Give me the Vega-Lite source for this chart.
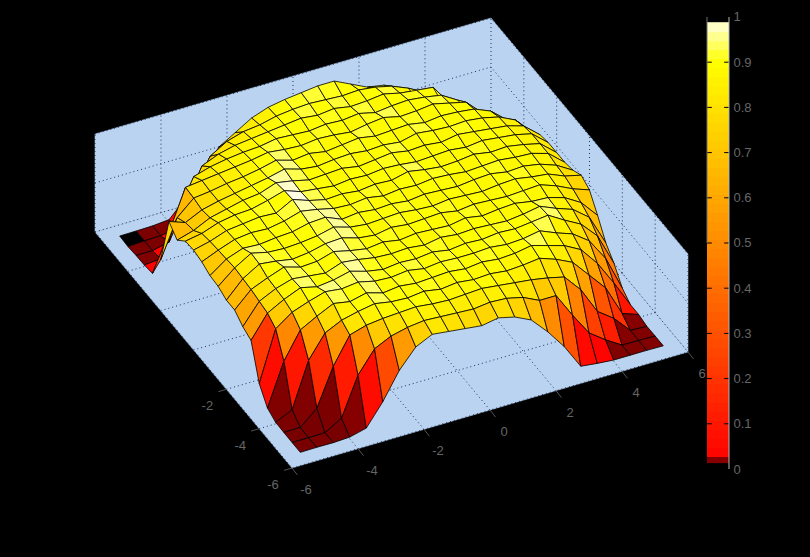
{"$schema":"https://vega.github.io/schema/vega-lite/v6.json","width":810,"height":557,"padding":0,"autosize":{"type":"none"},"background":"#000000","config":{"view":{"stroke":null}},
"datasets":{
"surface":[
{"x":-5.5,"y":5.5,"z":0.01},{"x":-5,"y":5.5,"z":0.012},{"x":-4.5,"y":5.5,"z":0.015},{"x":-4,"y":5.5,"z":0.03},{"x":-3.5,"y":5.5,"z":0.2},{"x":-3,"y":5.5,"z":0.4},{"x":-2.5,"y":5.5,"z":0.62},{"x":-2,"y":5.5,"z":0.72},{"x":-1.5,"y":5.5,"z":0.82},{"x":-1,"y":5.5,"z":0.88},{"x":-0.5,"y":5.5,"z":0.91},{"x":0,"y":5.5,"z":0.93},{"x":0.5,"y":5.5,"z":0.95},{"x":1,"y":5.5,"z":0.95},{"x":1.5,"y":5.5,"z":0.87},{"x":2,"y":5.5,"z":0.79},{"x":2.5,"y":5.5,"z":0.76},{"x":3,"y":5.5,"z":0.55},{"x":3.5,"y":5.5,"z":0.4},{"x":4,"y":5.5,"z":0.1},{"x":4.5,"y":5.5,"z":0.02},{"x":5,"y":5.5,"z":0.01},{"x":5.5,"y":5.5,"z":0.01},
{"x":-5.5,"y":5,"z":0.003},{"x":-5,"y":5,"z":0.012},{"x":-4.5,"y":5,"z":0.015},{"x":-4,"y":5,"z":0.05},{"x":-3.5,"y":5,"z":0.4},{"x":-3,"y":5,"z":0.68},{"x":-2.5,"y":5,"z":0.78},{"x":-2,"y":5,"z":0.83},{"x":-1.5,"y":5,"z":0.85},{"x":-1,"y":5,"z":0.89},{"x":-0.5,"y":5,"z":0.91},{"x":0,"y":5,"z":0.92},{"x":0.5,"y":5,"z":0.91},{"x":1,"y":5,"z":0.9},{"x":1.5,"y":5,"z":0.91},{"x":2,"y":5,"z":0.89},{"x":2.5,"y":5,"z":0.85},{"x":3,"y":5,"z":0.78},{"x":3.5,"y":5,"z":0.5},{"x":4,"y":5,"z":0.15},{"x":4.5,"y":5,"z":0.02},{"x":5,"y":5,"z":0.01},{"x":5.5,"y":5,"z":0.01},
{"x":-5.5,"y":4.5,"z":0.012},{"x":-5,"y":4.5,"z":0.012},{"x":-4.5,"y":4.5,"z":0.05},{"x":-4,"y":4.5,"z":0.4},{"x":-3.5,"y":4.5,"z":0.73},{"x":-3,"y":4.5,"z":0.8},{"x":-2.5,"y":4.5,"z":0.84},{"x":-2,"y":4.5,"z":0.86},{"x":-1.5,"y":4.5,"z":0.88},{"x":-1,"y":4.5,"z":0.9},{"x":-0.5,"y":4.5,"z":0.92},{"x":0,"y":4.5,"z":0.9},{"x":0.5,"y":4.5,"z":0.92},{"x":1,"y":4.5,"z":0.89},{"x":1.5,"y":4.5,"z":0.9},{"x":2,"y":4.5,"z":0.92},{"x":2.5,"y":4.5,"z":0.88},{"x":3,"y":4.5,"z":0.86},{"x":3.5,"y":4.5,"z":0.84},{"x":4,"y":4.5,"z":0.5},{"x":4.5,"y":4.5,"z":0.15},{"x":5,"y":4.5,"z":0.02},{"x":5.5,"y":4.5,"z":0.01},
{"x":-5.5,"y":4,"z":0.015},{"x":-5,"y":4,"z":0.03},{"x":-4.5,"y":4,"z":0.45},{"x":-4,"y":4,"z":0.77},{"x":-3.5,"y":4,"z":0.82},{"x":-3,"y":4,"z":0.85},{"x":-2.5,"y":4,"z":0.87},{"x":-2,"y":4,"z":0.88},{"x":-1.5,"y":4,"z":0.91},{"x":-1,"y":4,"z":0.9},{"x":-0.5,"y":4,"z":0.89},{"x":0,"y":4,"z":0.91},{"x":0.5,"y":4,"z":0.9},{"x":1,"y":4,"z":0.92},{"x":1.5,"y":4,"z":0.88},{"x":2,"y":4,"z":0.9},{"x":2.5,"y":4,"z":0.91},{"x":3,"y":4,"z":0.89},{"x":3.5,"y":4,"z":0.86},{"x":4,"y":4,"z":0.76},{"x":4.5,"y":4,"z":0.5},{"x":5,"y":4,"z":0.15},{"x":5.5,"y":4,"z":0.03},
{"x":-5.5,"y":3.5,"z":0.03},{"x":-5,"y":3.5,"z":0.4},{"x":-4.5,"y":3.5,"z":0.81},{"x":-4,"y":3.5,"z":0.83},{"x":-3.5,"y":3.5,"z":0.85},{"x":-3,"y":3.5,"z":0.87},{"x":-2.5,"y":3.5,"z":0.89},{"x":-2,"y":3.5,"z":0.92},{"x":-1.5,"y":3.5,"z":0.9},{"x":-1,"y":3.5,"z":0.89},{"x":-0.5,"y":3.5,"z":0.91},{"x":0,"y":3.5,"z":0.9},{"x":0.5,"y":3.5,"z":0.88},{"x":1,"y":3.5,"z":0.91},{"x":1.5,"y":3.5,"z":0.93},{"x":2,"y":3.5,"z":0.89},{"x":2.5,"y":3.5,"z":0.9},{"x":3,"y":3.5,"z":0.92},{"x":3.5,"y":3.5,"z":0.88},{"x":4,"y":3.5,"z":0.84},{"x":4.5,"y":3.5,"z":0.68},{"x":5,"y":3.5,"z":0.5},{"x":5.5,"y":3.5,"z":0.25},
{"x":-5.5,"y":3,"z":0.27},{"x":-5,"y":3,"z":0.65},{"x":-4.5,"y":3,"z":0.8},{"x":-4,"y":3,"z":0.82},{"x":-3.5,"y":3,"z":0.85},{"x":-3,"y":3,"z":0.87},{"x":-2.5,"y":3,"z":0.9},{"x":-2,"y":3,"z":0.94},{"x":-1.5,"y":3,"z":0.89},{"x":-1,"y":3,"z":0.91},{"x":-0.5,"y":3,"z":0.88},{"x":0,"y":3,"z":0.9},{"x":0.5,"y":3,"z":0.92},{"x":1,"y":3,"z":0.89},{"x":1.5,"y":3,"z":0.9},{"x":2,"y":3,"z":0.91},{"x":2.5,"y":3,"z":0.88},{"x":3,"y":3,"z":0.9},{"x":3.5,"y":3,"z":0.89},{"x":4,"y":3,"z":0.87},{"x":4.5,"y":3,"z":0.8},{"x":5,"y":3,"z":0.66},{"x":5.5,"y":3,"z":0.45},
{"x":-5.5,"y":2.5,"z":0.76},{"x":-5,"y":2.5,"z":0.7},{"x":-4.5,"y":2.5,"z":0.78},{"x":-4,"y":2.5,"z":0.82},{"x":-3.5,"y":2.5,"z":0.85},{"x":-3,"y":2.5,"z":0.88},{"x":-2.5,"y":2.5,"z":0.91},{"x":-2,"y":2.5,"z":0.95},{"x":-1.5,"y":2.5,"z":0.9},{"x":-1,"y":2.5,"z":0.88},{"x":-0.5,"y":2.5,"z":0.9},{"x":0,"y":2.5,"z":0.91},{"x":0.5,"y":2.5,"z":0.89},{"x":1,"y":2.5,"z":0.9},{"x":1.5,"y":2.5,"z":0.88},{"x":2,"y":2.5,"z":0.92},{"x":2.5,"y":2.5,"z":0.9},{"x":3,"y":2.5,"z":0.89},{"x":3.5,"y":2.5,"z":0.9},{"x":4,"y":2.5,"z":0.88},{"x":4.5,"y":2.5,"z":0.84},{"x":5,"y":2.5,"z":0.76},{"x":5.5,"y":2.5,"z":0.58},
{"x":-5.5,"y":2,"z":0.67},{"x":-5,"y":2,"z":0.72},{"x":-4.5,"y":2,"z":0.8},{"x":-4,"y":2,"z":0.84},{"x":-3.5,"y":2,"z":0.88},{"x":-3,"y":2,"z":0.9},{"x":-2.5,"y":2,"z":0.96},{"x":-2,"y":2,"z":0.93},{"x":-1.5,"y":2,"z":0.89},{"x":-1,"y":2,"z":0.9},{"x":-0.5,"y":2,"z":0.91},{"x":0,"y":2,"z":0.88},{"x":0.5,"y":2,"z":0.9},{"x":1,"y":2,"z":0.92},{"x":1.5,"y":2,"z":0.89},{"x":2,"y":2,"z":0.9},{"x":2.5,"y":2,"z":0.88},{"x":3,"y":2,"z":0.91},{"x":3.5,"y":2,"z":0.89},{"x":4,"y":2,"z":0.87},{"x":4.5,"y":2,"z":0.85},{"x":5,"y":2,"z":0.8},{"x":5.5,"y":2,"z":0.66},
{"x":-5.5,"y":1.5,"z":0.76},{"x":-5,"y":1.5,"z":0.79},{"x":-4.5,"y":1.5,"z":0.85},{"x":-4,"y":1.5,"z":0.88},{"x":-3.5,"y":1.5,"z":0.89},{"x":-3,"y":1.5,"z":0.93},{"x":-2.5,"y":1.5,"z":0.98},{"x":-2,"y":1.5,"z":0.92},{"x":-1.5,"y":1.5,"z":0.9},{"x":-1,"y":1.5,"z":0.88},{"x":-0.5,"y":1.5,"z":0.9},{"x":0,"y":1.5,"z":0.89},{"x":0.5,"y":1.5,"z":0.91},{"x":1,"y":1.5,"z":0.9},{"x":1.5,"y":1.5,"z":0.88},{"x":2,"y":1.5,"z":0.89},{"x":2.5,"y":1.5,"z":0.9},{"x":3,"y":1.5,"z":0.88},{"x":3.5,"y":1.5,"z":0.9},{"x":4,"y":1.5,"z":0.88},{"x":4.5,"y":1.5,"z":0.86},{"x":5,"y":1.5,"z":0.82},{"x":5.5,"y":1.5,"z":0.68},
{"x":-5.5,"y":1,"z":0.77},{"x":-5,"y":1,"z":0.81},{"x":-4.5,"y":1,"z":0.87},{"x":-4,"y":1,"z":0.89},{"x":-3.5,"y":1,"z":0.91},{"x":-3,"y":1,"z":0.9},{"x":-2.5,"y":1,"z":0.99},{"x":-2,"y":1,"z":0.93},{"x":-1.5,"y":1,"z":0.89},{"x":-1,"y":1,"z":0.9},{"x":-0.5,"y":1,"z":0.88},{"x":0,"y":1,"z":0.9},{"x":0.5,"y":1,"z":0.89},{"x":1,"y":1,"z":0.93},{"x":1.5,"y":1,"z":0.9},{"x":2,"y":1,"z":0.88},{"x":2.5,"y":1,"z":0.89},{"x":3,"y":1,"z":0.91},{"x":3.5,"y":1,"z":0.88},{"x":4,"y":1,"z":0.89},{"x":4.5,"y":1,"z":0.86},{"x":5,"y":1,"z":0.82},{"x":5.5,"y":1,"z":0.68},
{"x":-5.5,"y":0.5,"z":0.75},{"x":-5,"y":0.5,"z":0.82},{"x":-4.5,"y":0.5,"z":0.88},{"x":-4,"y":0.5,"z":0.9},{"x":-3.5,"y":0.5,"z":0.89},{"x":-3,"y":0.5,"z":0.92},{"x":-2.5,"y":0.5,"z":0.97},{"x":-2,"y":0.5,"z":0.94},{"x":-1.5,"y":0.5,"z":0.9},{"x":-1,"y":0.5,"z":0.89},{"x":-0.5,"y":0.5,"z":0.91},{"x":0,"y":0.5,"z":0.88},{"x":0.5,"y":0.5,"z":0.9},{"x":1,"y":0.5,"z":0.89},{"x":1.5,"y":0.5,"z":0.91},{"x":2,"y":0.5,"z":0.9},{"x":2.5,"y":0.5,"z":0.88},{"x":3,"y":0.5,"z":0.89},{"x":3.5,"y":0.5,"z":0.9},{"x":4,"y":0.5,"z":0.88},{"x":4.5,"y":0.5,"z":0.87},{"x":5,"y":0.5,"z":0.82},{"x":5.5,"y":0.5,"z":0.68},
{"x":-5.5,"y":0,"z":0.71},{"x":-5,"y":0,"z":0.83},{"x":-4.5,"y":0,"z":0.89},{"x":-4,"y":0,"z":0.88},{"x":-3.5,"y":0,"z":0.9},{"x":-3,"y":0,"z":0.91},{"x":-2.5,"y":0,"z":0.95},{"x":-2,"y":0,"z":0.96},{"x":-1.5,"y":0,"z":0.89},{"x":-1,"y":0,"z":0.91},{"x":-0.5,"y":0,"z":0.89},{"x":0,"y":0,"z":0.9},{"x":0.5,"y":0,"z":0.88},{"x":1,"y":0,"z":0.9},{"x":1.5,"y":0,"z":0.89},{"x":2,"y":0,"z":0.88},{"x":2.5,"y":0,"z":0.9},{"x":3,"y":0,"z":0.91},{"x":3.5,"y":0,"z":0.88},{"x":4,"y":0,"z":0.89},{"x":4.5,"y":0,"z":0.86},{"x":5,"y":0,"z":0.8},{"x":5.5,"y":0,"z":0.7},
{"x":-5.5,"y":-0.5,"z":0.7},{"x":-5,"y":-0.5,"z":0.84},{"x":-4.5,"y":-0.5,"z":0.94},{"x":-4,"y":-0.5,"z":0.9},{"x":-3.5,"y":-0.5,"z":0.89},{"x":-3,"y":-0.5,"z":0.9},{"x":-2.5,"y":-0.5,"z":0.92},{"x":-2,"y":-0.5,"z":0.96},{"x":-1.5,"y":-0.5,"z":0.91},{"x":-1,"y":-0.5,"z":0.89},{"x":-0.5,"y":-0.5,"z":0.9},{"x":0,"y":-0.5,"z":0.91},{"x":0.5,"y":-0.5,"z":0.89},{"x":1,"y":-0.5,"z":0.88},{"x":1.5,"y":-0.5,"z":0.9},{"x":2,"y":-0.5,"z":0.89},{"x":2.5,"y":-0.5,"z":0.88},{"x":3,"y":-0.5,"z":0.9},{"x":3.5,"y":-0.5,"z":0.91},{"x":4,"y":-0.5,"z":0.88},{"x":4.5,"y":-0.5,"z":0.86},{"x":5,"y":-0.5,"z":0.79},{"x":5.5,"y":-0.5,"z":0.75},
{"x":-5.5,"y":-1,"z":0.66},{"x":-5,"y":-1,"z":0.83},{"x":-4.5,"y":-1,"z":0.93},{"x":-4,"y":-1,"z":0.91},{"x":-3.5,"y":-1,"z":0.88},{"x":-3,"y":-1,"z":0.9},{"x":-2.5,"y":-1,"z":0.94},{"x":-2,"y":-1,"z":0.95},{"x":-1.5,"y":-1,"z":0.9},{"x":-1,"y":-1,"z":0.88},{"x":-0.5,"y":-1,"z":0.91},{"x":0,"y":-1,"z":0.89},{"x":0.5,"y":-1,"z":0.9},{"x":1,"y":-1,"z":0.91},{"x":1.5,"y":-1,"z":0.88},{"x":2,"y":-1,"z":0.9},{"x":2.5,"y":-1,"z":0.89},{"x":3,"y":-1,"z":0.88},{"x":3.5,"y":-1,"z":0.89},{"x":4,"y":-1,"z":0.9},{"x":4.5,"y":-1,"z":0.84},{"x":5,"y":-1,"z":0.76},{"x":5.5,"y":-1,"z":0.7},
{"x":-5.5,"y":-1.5,"z":0.66},{"x":-5,"y":-1.5,"z":0.82},{"x":-4.5,"y":-1.5,"z":0.89},{"x":-4,"y":-1.5,"z":0.95},{"x":-3.5,"y":-1.5,"z":0.9},{"x":-3,"y":-1.5,"z":0.91},{"x":-2.5,"y":-1.5,"z":0.96},{"x":-2,"y":-1.5,"z":0.92},{"x":-1.5,"y":-1.5,"z":0.89},{"x":-1,"y":-1.5,"z":0.91},{"x":-0.5,"y":-1.5,"z":0.88},{"x":0,"y":-1.5,"z":0.9},{"x":0.5,"y":-1.5,"z":0.89},{"x":1,"y":-1.5,"z":0.88},{"x":1.5,"y":-1.5,"z":0.91},{"x":2,"y":-1.5,"z":0.88},{"x":2.5,"y":-1.5,"z":0.9},{"x":3,"y":-1.5,"z":0.91},{"x":3.5,"y":-1.5,"z":0.88},{"x":4,"y":-1.5,"z":0.87},{"x":4.5,"y":-1.5,"z":0.82},{"x":5,"y":-1.5,"z":0.72},{"x":5.5,"y":-1.5,"z":0.54},
{"x":-5.5,"y":-2,"z":0.59},{"x":-5,"y":-2,"z":0.8},{"x":-4.5,"y":-2,"z":0.88},{"x":-4,"y":-2,"z":0.93},{"x":-3.5,"y":-2,"z":0.91},{"x":-3,"y":-2,"z":0.89},{"x":-2.5,"y":-2,"z":0.95},{"x":-2,"y":-2,"z":0.93},{"x":-1.5,"y":-2,"z":0.9},{"x":-1,"y":-2,"z":0.89},{"x":-0.5,"y":-2,"z":0.9},{"x":0,"y":-2,"z":0.88},{"x":0.5,"y":-2,"z":0.91},{"x":1,"y":-2,"z":0.89},{"x":1.5,"y":-2,"z":0.9},{"x":2,"y":-2,"z":0.89},{"x":2.5,"y":-2,"z":0.88},{"x":3,"y":-2,"z":0.9},{"x":3.5,"y":-2,"z":0.93},{"x":4,"y":-2,"z":0.86},{"x":4.5,"y":-2,"z":0.8},{"x":5,"y":-2,"z":0.67},{"x":5.5,"y":-2,"z":0.36},
{"x":-5.5,"y":-2.5,"z":0.55},{"x":-5,"y":-2.5,"z":0.78},{"x":-4.5,"y":-2.5,"z":0.87},{"x":-4,"y":-2.5,"z":0.94},{"x":-3.5,"y":-2.5,"z":0.9},{"x":-3,"y":-2.5,"z":0.92},{"x":-2.5,"y":-2.5,"z":0.96},{"x":-2,"y":-2.5,"z":0.91},{"x":-1.5,"y":-2.5,"z":0.88},{"x":-1,"y":-2.5,"z":0.9},{"x":-0.5,"y":-2.5,"z":0.89},{"x":0,"y":-2.5,"z":0.91},{"x":0.5,"y":-2.5,"z":0.88},{"x":1,"y":-2.5,"z":0.9},{"x":1.5,"y":-2.5,"z":0.89},{"x":2,"y":-2.5,"z":0.91},{"x":2.5,"y":-2.5,"z":0.9},{"x":3,"y":-2.5,"z":0.92},{"x":3.5,"y":-2.5,"z":0.94},{"x":4,"y":-2.5,"z":0.84},{"x":4.5,"y":-2.5,"z":0.75},{"x":5,"y":-2.5,"z":0.58},{"x":5.5,"y":-2.5,"z":0.25},
{"x":-5.5,"y":-3,"z":0.21},{"x":-5,"y":-3,"z":0.72},{"x":-4.5,"y":-3,"z":0.84},{"x":-4,"y":-3,"z":0.9},{"x":-3.5,"y":-3,"z":0.95},{"x":-3,"y":-3,"z":0.93},{"x":-2.5,"y":-3,"z":0.95},{"x":-2,"y":-3,"z":0.91},{"x":-1.5,"y":-3,"z":0.9},{"x":-1,"y":-3,"z":0.92},{"x":-0.5,"y":-3,"z":0.89},{"x":0,"y":-3,"z":0.91},{"x":0.5,"y":-3,"z":0.9},{"x":1,"y":-3,"z":0.9},{"x":1.5,"y":-3,"z":0.91},{"x":2,"y":-3,"z":0.89},{"x":2.5,"y":-3,"z":0.9},{"x":3,"y":-3,"z":0.93},{"x":3.5,"y":-3,"z":0.86},{"x":4,"y":-3,"z":0.8},{"x":4.5,"y":-3,"z":0.68},{"x":5,"y":-3,"z":0.45},{"x":5.5,"y":-3,"z":0.1},
{"x":-5.5,"y":-3.5,"z":0.06},{"x":-5,"y":-3.5,"z":0.49},{"x":-4.5,"y":-3.5,"z":0.76},{"x":-4,"y":-3.5,"z":0.85},{"x":-3.5,"y":-3.5,"z":0.93},{"x":-3,"y":-3.5,"z":0.9},{"x":-2.5,"y":-3.5,"z":0.94},{"x":-2,"y":-3.5,"z":0.89},{"x":-1.5,"y":-3.5,"z":0.91},{"x":-1,"y":-3.5,"z":0.89},{"x":-0.5,"y":-3.5,"z":0.9},{"x":0,"y":-3.5,"z":0.91},{"x":0.5,"y":-3.5,"z":0.89},{"x":1,"y":-3.5,"z":0.91},{"x":1.5,"y":-3.5,"z":0.89},{"x":2,"y":-3.5,"z":0.9},{"x":2.5,"y":-3.5,"z":0.93},{"x":3,"y":-3.5,"z":0.88},{"x":3.5,"y":-3.5,"z":0.83},{"x":4,"y":-3.5,"z":0.74},{"x":4.5,"y":-3.5,"z":0.55},{"x":5,"y":-3.5,"z":0.3},{"x":5.5,"y":-3.5,"z":0.03},
{"x":-5.5,"y":-4,"z":0.015},{"x":-5,"y":-4,"z":0.095},{"x":-4.5,"y":-4,"z":0.55},{"x":-4,"y":-4,"z":0.78},{"x":-3.5,"y":-4,"z":0.86},{"x":-3,"y":-4,"z":0.9},{"x":-2.5,"y":-4,"z":0.93},{"x":-2,"y":-4,"z":0.9},{"x":-1.5,"y":-4,"z":0.89},{"x":-1,"y":-4,"z":0.91},{"x":-0.5,"y":-4,"z":0.88},{"x":0,"y":-4,"z":0.9},{"x":0.5,"y":-4,"z":0.88},{"x":1,"y":-4,"z":0.89},{"x":1.5,"y":-4,"z":0.87},{"x":2,"y":-4,"z":0.88},{"x":2.5,"y":-4,"z":0.9},{"x":3,"y":-4,"z":0.84},{"x":3.5,"y":-4,"z":0.76},{"x":4,"y":-4,"z":0.58},{"x":4.5,"y":-4,"z":0.4},{"x":5,"y":-4,"z":0.09},{"x":5.5,"y":-4,"z":0.03},
{"x":-5.5,"y":-4.5,"z":0.012},{"x":-5,"y":-4.5,"z":0.015},{"x":-4.5,"y":-4.5,"z":0.16},{"x":-4,"y":-4.5,"z":0.54},{"x":-3.5,"y":-4.5,"z":0.81},{"x":-3,"y":-4.5,"z":0.86},{"x":-2.5,"y":-4.5,"z":0.88},{"x":-2,"y":-4.5,"z":0.89},{"x":-1.5,"y":-4.5,"z":0.9},{"x":-1,"y":-4.5,"z":0.88},{"x":-0.5,"y":-4.5,"z":0.87},{"x":0,"y":-4.5,"z":0.88},{"x":0.5,"y":-4.5,"z":0.89},{"x":1,"y":-4.5,"z":0.87},{"x":1.5,"y":-4.5,"z":0.85},{"x":2,"y":-4.5,"z":0.83},{"x":2.5,"y":-4.5,"z":0.8},{"x":3,"y":-4.5,"z":0.76},{"x":3.5,"y":-4.5,"z":0.58},{"x":4,"y":-4.5,"z":0.31},{"x":4.5,"y":-4.5,"z":0.19},{"x":5,"y":-4.5,"z":0.018},{"x":5.5,"y":-4.5,"z":0.01},
{"x":-5.5,"y":-5,"z":0.01},{"x":-5,"y":-5,"z":0.01},{"x":-4.5,"y":-5,"z":0.012},{"x":-4,"y":-5,"z":0.11},{"x":-3.5,"y":-5,"z":0.5},{"x":-3,"y":-5,"z":0.72},{"x":-2.5,"y":-5,"z":0.8},{"x":-2,"y":-5,"z":0.84},{"x":-1.5,"y":-5,"z":0.86},{"x":-1,"y":-5,"z":0.85},{"x":-0.5,"y":-5,"z":0.84},{"x":0,"y":-5,"z":0.83},{"x":0.5,"y":-5,"z":0.85},{"x":1,"y":-5,"z":0.84},{"x":1.5,"y":-5,"z":0.8},{"x":2,"y":-5,"z":0.72},{"x":2.5,"y":-5,"z":0.72},{"x":3,"y":-5,"z":0.47},{"x":3.5,"y":-5,"z":0.24},{"x":4,"y":-5,"z":0.12},{"x":4.5,"y":-5,"z":0.018},{"x":5,"y":-5,"z":0.015},{"x":5.5,"y":-5,"z":0.012},
{"x":-5.5,"y":-5.5,"z":0.01},{"x":-5,"y":-5.5,"z":0.012},{"x":-4.5,"y":-5.5,"z":0.01},{"x":-4,"y":-5.5,"z":0.018},{"x":-3.5,"y":-5.5,"z":0.06},{"x":-3,"y":-5.5,"z":0.28},{"x":-2.5,"y":-5.5,"z":0.55},{"x":-2,"y":-5.5,"z":0.74},{"x":-1.5,"y":-5.5,"z":0.82},{"x":-1,"y":-5.5,"z":0.8},{"x":-0.5,"y":-5.5,"z":0.78},{"x":0,"y":-5.5,"z":0.76},{"x":0.5,"y":-5.5,"z":0.79},{"x":1,"y":-5.5,"z":0.75},{"x":1.5,"y":-5.5,"z":0.67},{"x":2,"y":-5.5,"z":0.5},{"x":2.5,"y":-5.5,"z":0.3},{"x":3,"y":-5.5,"z":0.05},{"x":3.5,"y":-5.5,"z":0.03},{"x":4,"y":-5.5,"z":0.015},{"x":4.5,"y":-5.5,"z":0.015},{"x":5,"y":-5.5,"z":0.015},{"x":5.5,"y":-5.5,"z":0.012}
],
"planes":[
{"plane":"floor","o":0,"x":-6,"y":-6,"z":0},{"plane":"floor","o":1,"x":6,"y":-6,"z":0},{"plane":"floor","o":2,"x":6,"y":6,"z":0},{"plane":"floor","o":3,"x":-6,"y":6,"z":0},
{"plane":"wallY","o":0,"x":-6,"y":6,"z":0},{"plane":"wallY","o":1,"x":6,"y":6,"z":0},{"plane":"wallY","o":2,"x":6,"y":6,"z":1},{"plane":"wallY","o":3,"x":-6,"y":6,"z":1},
{"plane":"wallX","o":0,"x":6,"y":-6,"z":0},{"plane":"wallX","o":1,"x":6,"y":6,"z":0},{"plane":"wallX","o":2,"x":6,"y":6,"z":1},{"plane":"wallX","o":3,"x":6,"y":-6,"z":1}
],
"grid":[
{"g":"fx-4","o":0,"x":-4,"y":-6,"z":0},{"g":"fx-4","o":1,"x":-4,"y":6,"z":0},{"g":"fx-2","o":0,"x":-2,"y":-6,"z":0},{"g":"fx-2","o":1,"x":-2,"y":6,"z":0},{"g":"fx0","o":0,"x":0,"y":-6,"z":0},{"g":"fx0","o":1,"x":0,"y":6,"z":0},{"g":"fx2","o":0,"x":2,"y":-6,"z":0},{"g":"fx2","o":1,"x":2,"y":6,"z":0},{"g":"fx4","o":0,"x":4,"y":-6,"z":0},{"g":"fx4","o":1,"x":4,"y":6,"z":0},
{"g":"fy-4","o":0,"x":-6,"y":-4,"z":0},{"g":"fy-4","o":1,"x":6,"y":-4,"z":0},{"g":"fy-2","o":0,"x":-6,"y":-2,"z":0},{"g":"fy-2","o":1,"x":6,"y":-2,"z":0},{"g":"fy0","o":0,"x":-6,"y":0,"z":0},{"g":"fy0","o":1,"x":6,"y":0,"z":0},{"g":"fy2","o":0,"x":-6,"y":2,"z":0},{"g":"fy2","o":1,"x":6,"y":2,"z":0},{"g":"fy4","o":0,"x":-6,"y":4,"z":0},{"g":"fy4","o":1,"x":6,"y":4,"z":0},
{"g":"wyx-4","o":0,"x":-4,"y":6,"z":0},{"g":"wyx-4","o":1,"x":-4,"y":6,"z":1},{"g":"wyx-2","o":0,"x":-2,"y":6,"z":0},{"g":"wyx-2","o":1,"x":-2,"y":6,"z":1},{"g":"wyx0","o":0,"x":0,"y":6,"z":0},{"g":"wyx0","o":1,"x":0,"y":6,"z":1},{"g":"wyx2","o":0,"x":2,"y":6,"z":0},{"g":"wyx2","o":1,"x":2,"y":6,"z":1},{"g":"wyx4","o":0,"x":4,"y":6,"z":0},{"g":"wyx4","o":1,"x":4,"y":6,"z":1},
{"g":"wxy-4","o":0,"x":6,"y":-4,"z":0},{"g":"wxy-4","o":1,"x":6,"y":-4,"z":1},{"g":"wxy-2","o":0,"x":6,"y":-2,"z":0},{"g":"wxy-2","o":1,"x":6,"y":-2,"z":1},{"g":"wxy0","o":0,"x":6,"y":0,"z":0},{"g":"wxy0","o":1,"x":6,"y":0,"z":1},{"g":"wxy2","o":0,"x":6,"y":2,"z":0},{"g":"wxy2","o":1,"x":6,"y":2,"z":1},{"g":"wxy4","o":0,"x":6,"y":4,"z":0},{"g":"wxy4","o":1,"x":6,"y":4,"z":1},
{"g":"z5a","o":0,"x":-6,"y":6,"z":0.5},{"g":"z5a","o":1,"x":6,"y":6,"z":0.5},{"g":"z5a","o":2,"x":6,"y":-6,"z":0.5},
{"g":"z0a","o":0,"x":-6,"y":6,"z":0},{"g":"z0a","o":1,"x":6,"y":6,"z":0},{"g":"z0a","o":2,"x":6,"y":-6,"z":0},
{"g":"z1a","o":0,"x":-6,"y":6,"z":1},{"g":"z1a","o":1,"x":6,"y":6,"z":1},{"g":"z1a","o":2,"x":6,"y":-6,"z":1},
{"g":"e1","o":0,"x":6,"y":6,"z":0},{"g":"e1","o":1,"x":6,"y":6,"z":1},{"g":"e2","o":0,"x":-6,"y":6,"z":0},{"g":"e2","o":1,"x":-6,"y":6,"z":1},{"g":"e3","o":0,"x":6,"y":-6,"z":0},{"g":"e3","o":1,"x":6,"y":-6,"z":1},
{"g":"e4","o":0,"x":-6,"y":6,"z":0},{"g":"e4","o":1,"x":-6,"y":-6,"z":0},{"g":"e4","o":2,"x":6,"y":-6,"z":0}
],
"xticks":[{"v":-6},{"v":-4},{"v":-2},{"v":0},{"v":2},{"v":4},{"v":6}],
"yticks":[{"v":-6},{"v":-4},{"v":-2}],
"bar":[{"z":0.0165},{"z":0.0365},{"z":0.0565},{"z":0.0765},{"z":0.0965},{"z":0.1165},{"z":0.1365},{"z":0.1565},{"z":0.1765},{"z":0.1965},{"z":0.2165},{"z":0.2365},{"z":0.2565},{"z":0.2765},{"z":0.2965},{"z":0.3165},{"z":0.3365},{"z":0.3565},{"z":0.3765},{"z":0.3965},{"z":0.4165},{"z":0.4365},{"z":0.4565},{"z":0.4765},{"z":0.4965},{"z":0.5165},{"z":0.5365},{"z":0.5565},{"z":0.5765},{"z":0.5965},{"z":0.6165},{"z":0.6365},{"z":0.6565},{"z":0.6765},{"z":0.6965},{"z":0.7165},{"z":0.7365},{"z":0.7565},{"z":0.7765},{"z":0.7965},{"z":0.8165},{"z":0.8365},{"z":0.8565},{"z":0.8765},{"z":0.8965},{"z":0.9165},{"z":0.9365},{"z":0.9565},{"z":0.9765}],
"barticks":[{"t":0.1},{"t":0.2},{"t":0.3},{"t":0.4},{"t":0.5},{"t":0.6},{"t":0.7},{"t":0.8},{"t":0.9}]
},
"resolve":{"scale":{"x":"independent","y":"independent"}},
"layer":[
{"data":{"name":"planes"},
"transform":[{"calculate":"292+33*(datum.x+6)-16.417*(datum.y+6)","as":"px"},{"calculate":"468-9.667*(datum.x+6)-19.667*(datum.y+6)-98*datum.z","as":"py"}],
"mark":{"type":"line","fill":"#b9d3f1","stroke":"#b9d3f1","strokeWidth":0.5,"interpolate":"linear-closed"},
"encoding":{"x":{"field":"px","type":"quantitative","scale":{"domain":[0,810],"range":[0,810]},"axis":null},"y":{"field":"py","type":"quantitative","scale":{"domain":[0,557],"range":[0,557]},"axis":null},"detail":{"field":"plane"},"order":{"field":"o","type":"quantitative"}}},
{"data":{"name":"grid"},
"transform":[{"calculate":"292+33*(datum.x+6)-16.417*(datum.y+6)","as":"px"},{"calculate":"468-9.667*(datum.x+6)-19.667*(datum.y+6)-98*datum.z","as":"py"}],
"mark":{"type":"line","stroke":"#10204a","strokeWidth":0.9,"strokeDash":[1,3]},
"encoding":{"x":{"field":"px","type":"quantitative","scale":{"domain":[0,810],"range":[0,810]},"axis":null},"y":{"field":"py","type":"quantitative","scale":{"domain":[0,557],"range":[0,557]},"axis":null},"detail":{"field":"g"},"order":{"field":"o","type":"quantitative"}}},
{"data":{"name":"surface"},
"transform":[
{"window":[{"op":"lead","field":"z","as":"zR"}],"groupby":["y"],"sort":[{"field":"x","order":"ascending"}]},
{"window":[{"op":"lead","field":"z","as":"zU"},{"op":"lead","field":"zR","as":"zUR"}],"groupby":["x"],"sort":[{"field":"y","order":"ascending"}]},
{"filter":"datum.x<5.5&&datum.y<5.5"},
{"calculate":"datum.x+'_'+datum.y","as":"cell"},
{"fold":["z","zR","zUR","zU"],"as":["corner","vz"]},
{"calculate":"indexof(['z','zR','zUR','zU'],datum.corner)","as":"o"},
{"calculate":"datum.x+(datum.o==1||datum.o==2?0.5:0)","as":"vx"},
{"calculate":"datum.y+(datum.o>=2?0.5:0)","as":"vy"},
{"calculate":"292+33*(datum.vx+6)-16.417*(datum.vy+6)","as":"px"},
{"calculate":"468-9.667*(datum.vx+6)-19.667*(datum.vy+6)-98*datum.vz","as":"py"}],
"mark":{"type":"line","stroke":"#000000","strokeWidth":0.8,"interpolate":"linear-closed"},
"encoding":{"x":{"field":"px","type":"quantitative","scale":{"domain":[0,810],"range":[0,810]},"axis":null},"y":{"field":"py","type":"quantitative","scale":{"domain":[0,557],"range":[0,557]},"axis":null},"detail":{"field":"cell"},"order":{"field":"o","type":"quantitative"},
"fill":{"field":"z","type":"quantitative","legend":null,"scale":{"interpolate":"rgb","domain":[0,0.004,0.005,0.0199,0.02,0.9,1],"range":["#000000","#000000","#700000","#8a0000","#ff0000","#ffff00","#ffffff"]}}}},
{"data":{"name":"xticks"},
"transform":[{"calculate":"292+33*(datum.v+6)","as":"px"},{"calculate":"468-9.667*(datum.v+6)","as":"py"},{"calculate":"datum.px+5.5","as":"px2"},{"calculate":"datum.py+7","as":"py2"}],
"mark":{"type":"rule","stroke":"#777777","strokeWidth":0.7},
"encoding":{"x":{"field":"px","type":"quantitative","scale":{"domain":[0,810],"range":[0,810]},"axis":null},"y":{"field":"py","type":"quantitative","scale":{"domain":[0,557],"range":[0,557]},"axis":null},"x2":{"field":"px2"},"y2":{"field":"py2"}}},
{"data":{"name":"yticks"},
"transform":[{"calculate":"292-16.417*(datum.v+6)","as":"px"},{"calculate":"468-19.667*(datum.v+6)","as":"py"},{"calculate":"datum.px-8","as":"px2"},{"calculate":"datum.py+2.4","as":"py2"}],
"mark":{"type":"rule","stroke":"#777777","strokeWidth":0.7},
"encoding":{"x":{"field":"px","type":"quantitative","scale":{"domain":[0,810],"range":[0,810]},"axis":null},"y":{"field":"py","type":"quantitative","scale":{"domain":[0,557],"range":[0,557]},"axis":null},"x2":{"field":"px2"},"y2":{"field":"py2"}}},
{"data":{"name":"xticks"},
"transform":[{"calculate":"292+33*(datum.v+6)","as":"px"},{"calculate":"468-9.667*(datum.v+6)","as":"py"}],
"mark":{"type":"text","dx":14,"dy":22,"font":"Liberation Sans","fontSize":13,"fill":"#666666","align":"center","baseline":"middle"},
"encoding":{"x":{"field":"px","type":"quantitative","scale":{"domain":[0,810],"range":[0,810]},"axis":null},"y":{"field":"py","type":"quantitative","scale":{"domain":[0,557],"range":[0,557]},"axis":null},"text":{"field":"v","type":"nominal"}}},
{"data":{"name":"yticks"},
"transform":[{"calculate":"292-16.417*(datum.v+6)","as":"px"},{"calculate":"468-19.667*(datum.v+6)","as":"py"}],
"mark":{"type":"text","dx":-19,"dy":17,"font":"Liberation Sans","fontSize":13,"fill":"#666666","align":"center","baseline":"middle"},
"encoding":{"x":{"field":"px","type":"quantitative","scale":{"domain":[0,810],"range":[0,810]},"axis":null},"y":{"field":"py","type":"quantitative","scale":{"domain":[0,557],"range":[0,557]},"axis":null},"text":{"field":"v","type":"nominal"}}},
{"data":{"name":"bar"},
"transform":[{"calculate":"max(datum.z-0.01,0.013)","as":"lo"},{"calculate":"datum.z+0.012","as":"hi"}],
"mark":{"type":"rect"},
"encoding":{"x":{"datum":0,"type":"quantitative","scale":{"domain":[-32.136,4.682],"range":[0,810]},"axis":null},"x2":{"datum":1},
"y":{"field":"lo","type":"quantitative","scale":{"domain":[-0.19469,1.03761],"range":[557,0]},"axis":{"orient":"right","offset":-81,"values":[0,0.1,0.2,0.3,0.4,0.5,0.6,0.7,0.8,0.9,1],"format":"~g","domain":false,"ticks":false,"grid":false,"title":null,"labelColor":"#666666","labelFont":"Liberation Sans","labelFontSize":13,"labelPadding":4}},"y2":{"field":"hi"},
"fill":{"field":"z","type":"quantitative","legend":null,"scale":{"interpolate":"rgb","domain":[0,0.004,0.005,0.0199,0.02,0.9,1],"range":["#000000","#000000","#700000","#8a0000","#ff0000","#ffff00","#ffffff"]}}}},
{"data":{"name":"barticks"},
"mark":{"type":"rule","stroke":"#000000","strokeWidth":1},
"encoding":{"x":{"datum":0,"type":"quantitative","scale":{"domain":[-32.136,4.682],"range":[0,810]},"axis":null},"x2":{"datum":0.22},"y":{"field":"t","type":"quantitative","scale":{"domain":[-0.19469,1.03761],"range":[557,0]},"axis":null}}},
{"data":{"name":"barticks"},
"mark":{"type":"rule","stroke":"#000000","strokeWidth":1},
"encoding":{"x":{"datum":0.78,"type":"quantitative","scale":{"domain":[-32.136,4.682],"range":[0,810]},"axis":null},"x2":{"datum":1},"y":{"field":"t","type":"quantitative","scale":{"domain":[-0.19469,1.03761],"range":[557,0]},"axis":null}}},
{"data":{"values":[{"lo":0,"hi":1}]},
"mark":{"type":"rule","stroke":"#b5b5b5","strokeWidth":1},
"encoding":{"x":{"datum":1,"type":"quantitative","scale":{"domain":[-32.136,4.682],"range":[0,810]},"axis":null},"y":{"field":"lo","type":"quantitative","scale":{"domain":[-0.19469,1.03761],"range":[557,0]},"axis":null},"y2":{"field":"hi"}}},
{"data":{"values":[{"lo":0.5,"hi":1}]},
"mark":{"type":"rule","stroke":"#707070","strokeWidth":1},
"encoding":{"x":{"datum":0,"type":"quantitative","scale":{"domain":[-32.136,4.682],"range":[0,810]},"axis":null},"y":{"field":"lo","type":"quantitative","scale":{"domain":[-0.19469,1.03761],"range":[557,0]},"axis":null},"y2":{"field":"hi"}}}
]}
